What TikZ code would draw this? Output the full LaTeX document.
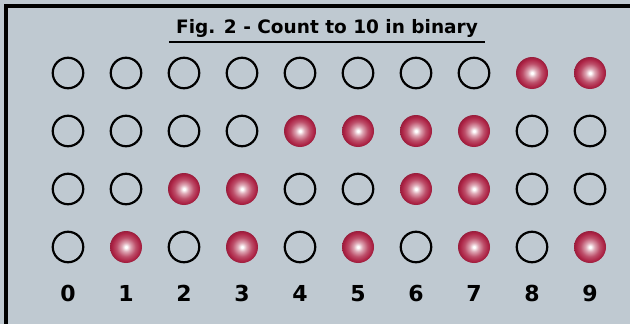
\documentclass[tikz,border=0pt]{standalone}
\usepackage{fontspec}
\setmainfont{DejaVu Sans}
\usetikzlibrary{positioning}
\definecolor{panelbg}{RGB}{191,201,209}
\definecolor{beadred}{RGB}{172,34,68}
\pgfdeclareradialshading{bead}{\pgfpoint{0bp}{0bp}}{%
  color(0bp)=(white); color(1.5bp)=(white); color(7bp)=(beadred!40!white);
  color(15bp)=(beadred!80!white); color(22bp)=(beadred);
  color(25bp)=(beadred!88!black); color(50bp)=(beadred!88!black)}

\begin{document}
\begin{tikzpicture}[x=1pt, y=-1pt,
        bit0/.style={circle, draw=black, line width=2.2pt, fill=none,
                     minimum size=30.5pt, inner sep=0pt},
        bit1/.style={circle, shading=bead, minimum size=32pt, inner sep=0pt},
        digit/.style={font=\fontsize{22}{25}\selectfont\bfseries, inner sep=0pt,
                      anchor=base},
        heading/.style={font=\fontsize{18.5}{21}\selectfont\bfseries,
                        inner xsep=7pt, inner ysep=4pt}]
    % panel and frame
    \fill[panelbg] (0,0) rectangle (630,324);
    \useasboundingbox (0,0) rectangle (630,324);
    \draw[line width=3.4pt] (6,324) -- (6,6) -- (630,6);
    % title
    \node[heading, anchor=base] (title) at (327,34) {Fig. 2 - Count to 10 in binary};
    \draw[line width=2.4pt] (title.south west) -- (title.south east);
    % one column per number, rows are the 8-4-2-1 bits
    \foreach \c in {0,...,9}{
        \foreach \r/\w in {0/8,1/4,2/2,3/1}{
            \pgfmathtruncatemacro\bit{mod(floor(\c/\w),2)}
            \node[bit\bit] (b\r\c) at (68+58*\c,73+58*\r) {};
        }
        \node[digit] (n\c) at (68+58*\c,301) {\c};
    }
\end{tikzpicture}
\end{document}
